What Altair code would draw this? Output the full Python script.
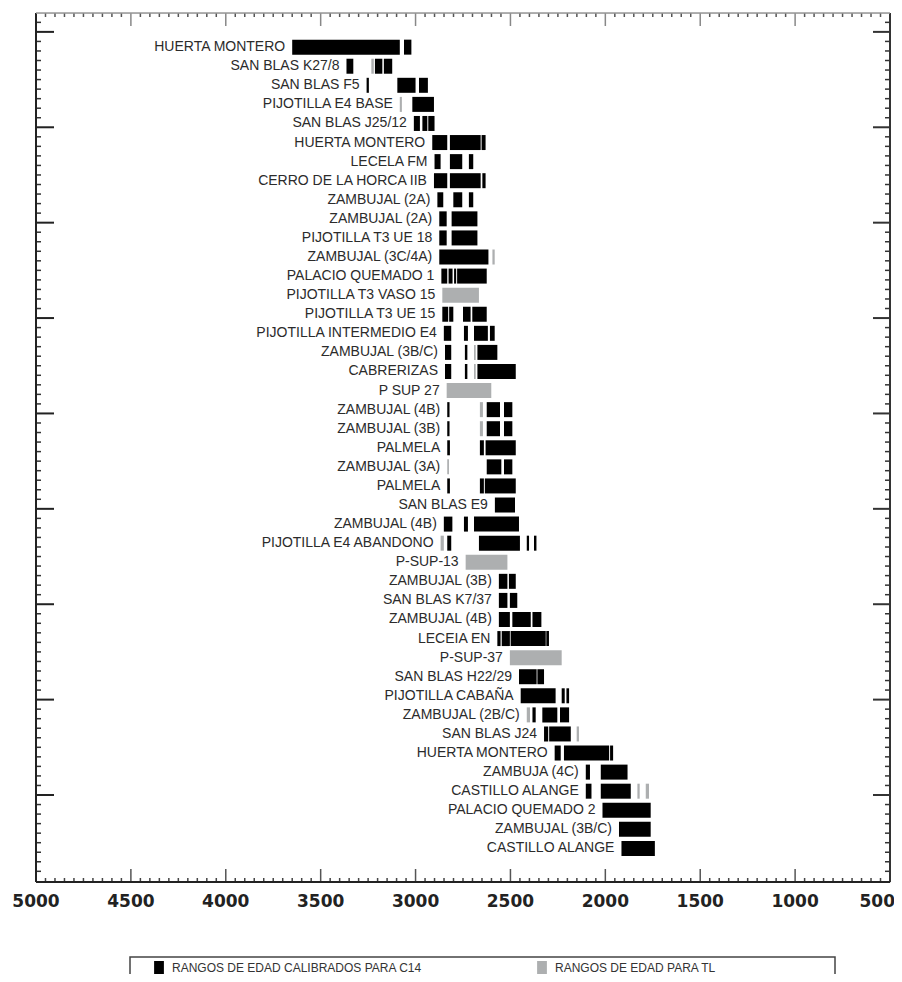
import altair as alt
import pandas as pd

C14 = "RANGOS DE EDAD CALIBRADOS PARA C14"
TL = "RANGOS DE EDAD PARA TL"

sites = [
    "HUERTA MONTERO", "SAN BLAS K27/8", "SAN BLAS F5", "PIJOTILLA E4 BASE",
    "SAN BLAS J25/12", "HUERTA MONTERO", "LECELA FM", "CERRO DE LA HORCA IIB",
    "ZAMBUJAL (2A)", "ZAMBUJAL (2A)", "PIJOTILLA T3 UE 18", "ZAMBUJAL (3C/4A)",
    "PALACIO QUEMADO 1", "PIJOTILLA T3 VASO 15", "PIJOTILLA T3 UE 15",
    "PIJOTILLA INTERMEDIO E4", "ZAMBUJAL (3B/C)", "CABRERIZAS", "P SUP 27",
    "ZAMBUJAL (4B)", "ZAMBUJAL (3B)", "PALMELA", "ZAMBUJAL (3A)", "PALMELA",
    "SAN BLAS E9", "ZAMBUJAL (4B)", "PIJOTILLA E4 ABANDONO", "P-SUP-13",
    "ZAMBUJAL (3B)", "SAN BLAS K7/37", "ZAMBUJAL (4B)", "LECEIA EN", "P-SUP-37",
    "SAN BLAS H22/29", "PIJOTILLA CABAÑA", "ZAMBUJAL (2B/C)", "SAN BLAS J24",
    "HUERTA MONTERO", "ZAMBUJA (4C)", "CASTILLO ALANGE", "PALACIO QUEMADO 2",
    "ZAMBUJAL (3B/C)", "CASTILLO ALANGE",
]

# segments: row index (1 = top), start (older, BC), end (younger, BC), type C=C14 / T=TL
seg_row = [
    1, 1,
    2, 2, 2, 2,
    3, 3, 3,
    4, 4,
    5, 5, 5,
    6, 6, 6,
    7, 7, 7,
    8, 8, 8,
    9, 9, 9,
    10, 10,
    11, 11,
    12, 12,
    13, 13, 13, 13,
    14,
    15, 15, 15, 15,
    16, 16, 16, 16,
    17, 17, 17, 17,
    18, 18, 18, 18,
    19,
    20, 20, 20, 20,
    21, 21, 21, 21,
    22, 22, 22,
    23, 23, 23,
    24, 24, 24,
    25,
    26, 26, 26,
    27, 27, 27, 27, 27,
    28,
    29, 29,
    30, 30,
    31, 31, 31,
    32, 32, 32, 32,
    33,
    34, 34,
    35, 35, 35,
    36, 36, 36, 36,
    37, 37, 37,
    38, 38, 38,
    39, 39,
    40, 40, 40, 40,
    41,
    42,
    43,
]
seg_start = [
    3650, 3061,
    3364, 3233, 3214, 3167,
    3258, 3096, 2982,
    3083, 3017,
    3009, 2964, 2933,
    2912, 2819, 2652,
    2900, 2819, 2719,
    2903, 2819, 2648,
    2885, 2801, 2719,
    2875, 2810,
    2875, 2810,
    2875, 2595,
    2864, 2826, 2797, 2781,
    2859,
    2859, 2823, 2750, 2701,
    2851, 2745, 2692, 2608,
    2845, 2740, 2692, 2674,
    2845, 2740, 2692, 2674,
    2836,
    2833, 2661, 2625, 2534,
    2833, 2661, 2625, 2534,
    2833, 2661, 2631,
    2833, 2625, 2534,
    2833, 2661, 2635,
    2582,
    2851, 2745, 2692,
    2868, 2833, 2666, 2414, 2376,
    2736,
    2561, 2508,
    2561, 2503,
    2561, 2490, 2384,
    2569, 2546, 2499, 2311,
    2503,
    2455, 2358,
    2446, 2230, 2205,
    2414, 2384, 2332, 2239,
    2323, 2296, 2151,
    2267, 2218, 1975,
    2103, 2024,
    2103, 2024, 1831, 1787,
    2015,
    1928,
    1915,
]
seg_end = [
    3083, 3022,
    3328, 3220, 3175, 3123,
    3246, 3000, 2935,
    3072, 2903,
    2977, 2938, 2900,
    2833, 2657, 2631,
    2868, 2754, 2696,
    2833, 2657, 2631,
    2854, 2754, 2696,
    2836, 2674,
    2836, 2674,
    2616, 2583,
    2833, 2805, 2786, 2625,
    2666,
    2828, 2801, 2710, 2625,
    2812, 2724, 2619, 2583,
    2812, 2727, 2683, 2569,
    2812, 2727, 2683, 2472,
    2601,
    2821, 2645, 2555, 2490,
    2821, 2645, 2555, 2490,
    2819, 2640, 2472,
    2824, 2548, 2490,
    2819, 2640, 2472,
    2476,
    2806, 2724, 2455,
    2851, 2812, 2450, 2402, 2363,
    2516,
    2516, 2472,
    2516, 2464,
    2503, 2393, 2337,
    2552, 2503, 2314, 2297,
    2230,
    2362, 2323,
    2262, 2214, 2191,
    2397, 2367, 2253, 2191,
    2301, 2182, 2139,
    2235, 1980, 1959,
    2081, 1883,
    2073, 1866, 1819, 1770,
    1761,
    1761,
    1739,
]
seg_type = [
    "C", "C",
    "C", "T", "C", "C",
    "C", "C", "C",
    "T", "C",
    "C", "C", "C",
    "C", "C", "C",
    "C", "C", "C",
    "C", "C", "C",
    "C", "C", "C",
    "C", "C",
    "C", "C",
    "C", "T",
    "C", "C", "C", "C",
    "T",
    "C", "C", "C", "C",
    "C", "C", "C", "C",
    "C", "C", "T", "C",
    "C", "C", "T", "C",
    "T",
    "C", "T", "C", "C",
    "C", "T", "C", "C",
    "C", "C", "C",
    "T", "C", "C",
    "C", "C", "C",
    "C",
    "C", "C", "C",
    "T", "C", "C", "C", "C",
    "T",
    "C", "C",
    "C", "C",
    "C", "C", "C",
    "C", "C", "C", "C",
    "T",
    "C", "C",
    "C", "C", "C",
    "T", "C", "C", "C",
    "C", "C", "T",
    "C", "C", "C",
    "C", "C",
    "C", "C", "T", "T",
    "C",
    "C",
    "C",
]

x_major = [5000, 4500, 4000, 3500, 3000, 2500, 2000, 1500, 1000, 500]

W, H = 854, 869

seg = pd.DataFrame({
    "row": seg_row,
    "start": seg_start,
    "end": seg_end,
    "kind": [C14 if t == "C" else TL for t in seg_type],
    "site": [sites[r - 1] for r in seg_row],
})

xscale = alt.Scale(domain=[500, 5000], reverse=True, nice=False, zero=False)
yscale = alt.Scale(domain=[-0.528, 44.498], reverse=True, nice=False, zero=False)

bars = alt.Chart(seg).mark_bar(size=15, orient="horizontal").encode(
    x=alt.X("start:Q", scale=xscale, axis=None),
    x2="end:Q",
    y=alt.Y("row:Q", scale=yscale, axis=None),
    color=alt.Color("kind:N",
                    scale=alt.Scale(domain=[C14, TL], range=["#000000", "#adafb0"]),
                    legend=alt.Legend(title=None, orient="none", legendX=116, legendY=948,
                                      direction="horizontal",
                                      symbolType="M-0.7,-1H0.7V1H-0.7Z", symbolSize=196,
                                      symbolStrokeWidth=0, symbolOpacity=1,
                                      labelFont="Liberation Sans", labelFontSize=12,
                                      labelColor="#333", labelOffset=6, labelLimit=600,
                                      columnPadding=113, padding=0)),
)

labels = alt.Chart(seg).transform_aggregate(
    x0="max(start)", groupby=["row", "site"]
).mark_text(align="right", baseline="middle", dx=-7, font="Liberation Sans",
            fontSize=14, color="#2b2b2b").encode(
    x=alt.X("x0:Q", scale=xscale, axis=None),
    y=alt.Y("row:Q", scale=yscale, axis=None),
    text="site:N",
)

# x tick labels (bold, below the frame)
xlab_mid = pd.DataFrame({"v": x_major[:-1]})
xlab_end = pd.DataFrame({"v": x_major[-1:]})
tick_text = dict(font="DejaVu Sans", fontWeight="bold", fontSize=17, color="#222",
                 baseline="middle")
xlabels_mid = alt.Chart(xlab_mid).mark_text(align="center", **tick_text).encode(
    x=alt.X("v:Q", scale=xscale, axis=None), y=alt.value(H + 20),
    text=alt.Text("v:Q", format="d"))
xlabels_end = alt.Chart(xlab_end).mark_text(align="right", dx=5, **tick_text).encode(
    x=alt.X("v:Q", scale=xscale, axis=None), y=alt.value(H + 20),
    text=alt.Text("v:Q", format="d"))

# tick marks (IDL-style frame ticks)
x_minor = [v for v in range(5000, 499, -50) if v not in x_major]
y_major = [round(0.2 + 5 * k, 2) for k in range(9)]
y_minor = [round(-0.3 + 0.5 * k, 2) for k in range(90)]
y_minor = [v for v in y_minor if v not in y_major and v <= 44.4]

xmaj = pd.DataFrame({"v": x_major})
xmin = pd.DataFrame({"v": x_minor})
ymaj = pd.DataFrame({"v": y_major})
ymin = pd.DataFrame({"v": y_minor})

def xticks(df, y0, y1, color, sw):
    return alt.Chart(df).mark_rule(color=color, strokeWidth=sw).encode(
        x=alt.X("v:Q", scale=xscale, axis=None), y=alt.value(y0), y2=alt.value(y1))

def yticks(df, x0, x1, color, sw):
    return alt.Chart(df).mark_rule(color=color, strokeWidth=sw).encode(
        y=alt.Y("v:Q", scale=yscale, axis=None), x=alt.value(x0), x2=alt.value(x1))

one = alt.Data(values=[{}])
frame_left = alt.Chart(one).mark_rule(color="#222", strokeWidth=2).encode(
    x=alt.value(0), y=alt.value(0), y2=alt.value(H))
frame_right = alt.Chart(one).mark_rule(color="#333", strokeWidth=2).encode(
    x=alt.value(W), y=alt.value(0), y2=alt.value(H))
frame_bottom = alt.Chart(one).mark_rule(color="#222", strokeWidth=2).encode(
    y=alt.value(H), x=alt.value(0), x2=alt.value(W))
frame_top = alt.Chart(one).mark_rule(color="#999", strokeWidth=1.5).encode(
    y=alt.value(0), x=alt.value(0), x2=alt.value(W))

legend_box = alt.Chart(one).mark_rect(filled=False, stroke="#444", strokeWidth=1.5).encode(
    x=alt.value(94), x2=alt.value(799), y=alt.value(944), y2=alt.value(1000))

chart = alt.layer(
    bars, labels, xlabels_mid, xlabels_end,
    xticks(xmaj, H, H - 13, "#555", 1.5),
    xticks(xmin, H, H - 4, "#444", 1.5),
    xticks(xmaj, 0, 13, "#888", 1.5),
    xticks(xmin, 0, 4, "#555", 1.5),
    yticks(ymaj, 0, 18, "#222", 2),
    yticks(ymin, 0, 5, "#333", 1.5),
    yticks(ymaj, W, W - 17, "#333", 2),
    yticks(ymin, W, W - 5, "#333", 1.5),
    frame_left, frame_right, frame_bottom, frame_top,
    legend_box,
).properties(
    width=W, height=H,
    padding={"left": 28, "top": 5, "right": 4, "bottom": 92},
    autosize=alt.AutoSizeParams(type="none"),
).configure_view(stroke=None).configure(background="white")

chart.save("out.html", embed_options={"renderer": "svg", "actions": False})
